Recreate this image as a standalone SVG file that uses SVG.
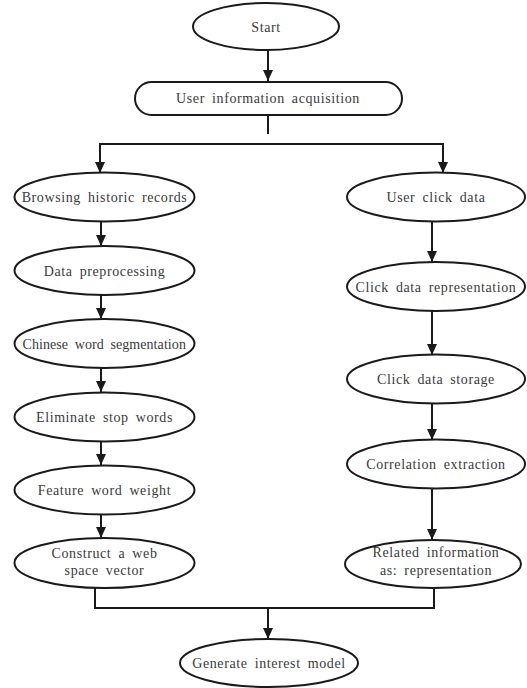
<svg xmlns="http://www.w3.org/2000/svg" width="527" height="688" viewBox="0 0 527 688">
<style>
.n{fill:#fff;stroke:#1a1a1a;stroke-width:2}
.t{font-family:"Liberation Serif","Times New Roman",serif;font-size:14px;fill:#3a3a3a;text-anchor:middle;letter-spacing:0.6px;word-spacing:3px}
.c{fill:none;stroke:#1a1a1a;stroke-width:2}
</style>
<rect width="527" height="688" fill="#fff"/>
<g id="connectors">
<line class="c" x1="268" y1="50" x2="268" y2="81"/>
<line class="c" x1="268" y1="115" x2="268" y2="134"/>
<polyline class="c" points="100,172 100,144 443,144 443,172"/>
<line class="c" x1="101" y1="222" x2="101" y2="245"/>
<line class="c" x1="101" y1="295" x2="101" y2="318"/>
<line class="c" x1="101" y1="368" x2="101" y2="392"/>
<line class="c" x1="101" y1="441" x2="101" y2="465"/>
<line class="c" x1="101" y1="515" x2="101" y2="538"/>
<line class="c" x1="432" y1="222" x2="432" y2="262"/>
<line class="c" x1="432" y1="311" x2="432" y2="355"/>
<line class="c" x1="432" y1="403" x2="432" y2="440"/>
<line class="c" x1="432" y1="488" x2="432" y2="540"/>
<polyline class="c" points="95,588 95,608 434,608 434,588"/>
<line class="c" x1="268" y1="608" x2="268" y2="638"/>
<g fill="#1a1a1a">
<path d="M263,70 L273,70 L268,81 Z"/>
<path d="M95,162 L105,162 L100,173 Z"/>
<path d="M438,162 L448,162 L443,173 Z"/>
<path d="M96,235 L106,235 L101,246 Z"/>
<path d="M96,308 L106,308 L101,319 Z"/>
<path d="M96,381 L106,381 L101,392 Z"/>
<path d="M96,454 L106,454 L101,465 Z"/>
<path d="M96,527 L106,527 L101,538 Z"/>
<path d="M427,251 L437,251 L432,262 Z"/>
<path d="M427,344 L437,344 L432,355 Z"/>
<path d="M427,429 L437,429 L432,440 Z"/>
<path d="M427,529 L437,529 L432,540 Z"/>
<path d="M263,628 L273,628 L268,639 Z"/>
</g>
</g>
<g id="start"><ellipse class="n" cx="266" cy="26.5" rx="73" ry="23.5"/><text class="t" x="266" y="32">Start</text></g>
<g id="acquisition"><rect class="n" x="135" y="82" width="267" height="33" rx="16.5"/><text class="t" x="268" y="102.5">User information acquisition</text></g>
<g id="browsing"><ellipse class="n" cx="104.5" cy="197" rx="90" ry="24.5"/><text class="t" x="104.5" y="202">Browsing historic records</text></g>
<g id="preprocessing"><ellipse class="n" cx="104.5" cy="270.5" rx="90" ry="24.5"/><text class="t" x="104.5" y="275.5">Data preprocessing</text></g>
<g id="segmentation"><ellipse class="n" cx="104.5" cy="343.5" rx="90" ry="24.5"/><text class="t" x="104.5" y="348.5" textLength="164" lengthAdjust="spacing">Chinese word segmentation</text></g>
<g id="stopwords"><ellipse class="n" cx="104.5" cy="417" rx="90" ry="24.5"/><text class="t" x="104.5" y="422">Eliminate stop words</text></g>
<g id="weight"><ellipse class="n" cx="104.5" cy="490" rx="90" ry="24.5"/><text class="t" x="104.5" y="495">Feature word weight</text></g>
<g id="vector"><ellipse class="n" cx="104.5" cy="563" rx="90" ry="25"/><text class="t" x="104.5" y="558">Construct a web</text><text class="t" x="104.5" y="575">space vector</text></g>
<g id="clickdata"><ellipse class="n" cx="436" cy="197" rx="89" ry="24.5"/><text class="t" x="436" y="202">User click data</text></g>
<g id="representation"><ellipse class="n" cx="436" cy="286.5" rx="89" ry="24.5"/><text class="t" x="436" y="291.5">Click data representation</text></g>
<g id="storage"><ellipse class="n" cx="436" cy="379" rx="89" ry="24.5"/><text class="t" x="436" y="384">Click data storage</text></g>
<g id="correlation"><ellipse class="n" cx="436" cy="464" rx="89" ry="24.5"/><text class="t" x="436" y="469">Correlation extraction</text></g>
<g id="related"><ellipse class="n" cx="433" cy="564" rx="88" ry="24"/><text class="t" x="436" y="557">Related information</text><text class="t" x="436" y="575">as: representation</text></g>
<g id="model"><ellipse class="n" cx="269" cy="663" rx="89" ry="24"/><text class="t" x="269" y="668">Generate interest model</text></g>
</svg>
